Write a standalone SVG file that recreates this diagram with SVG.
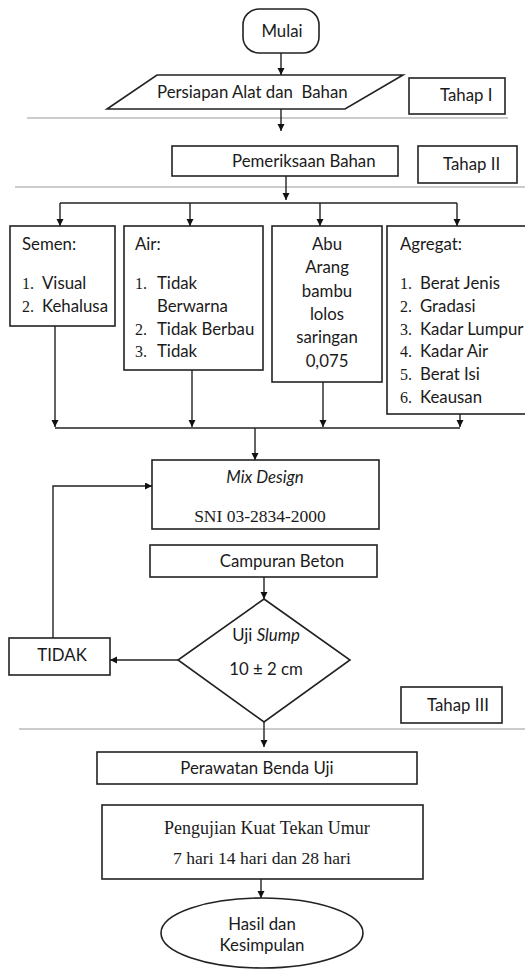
<svg xmlns="http://www.w3.org/2000/svg" width="525" height="969" viewBox="0 0 525 969">
<style>
.box{fill:#fff;stroke:#222;stroke-width:1.6}
.sep{stroke:#9a9a9a;stroke-width:1.2;fill:none}
.con{stroke:#222;stroke-width:1.4;fill:none}
.t{font-family:Lato,"Liberation Sans",sans-serif;font-size:16.8px;fill:#1a1a1a}
.s{font-family:"Liberation Serif",serif;font-size:16px;fill:#1a1a1a}
.c{text-anchor:middle}
.i{font-style:italic}
</style>
<defs>
<marker id="ah" markerWidth="8" markerHeight="8" refX="7" refY="3.5" orient="auto" markerUnits="userSpaceOnUse">
<path d="M0,0 L7,3.5 L0,7 z" fill="#111"/>
</marker>
</defs>
<rect width="525" height="969" fill="#fff"/>
<g id="separators">
<line class="sep" x1="27" y1="118" x2="508" y2="118"/>
<line class="sep" x1="15" y1="187" x2="525" y2="187"/>
<line class="sep" x1="19" y1="729" x2="525" y2="729"/>
</g>
<g id="mulai"><rect class="box" x="243" y="9" width="76" height="44" rx="16"/><text class="t c" x="282" y="37">Mulai</text></g>
<g id="persiapan"><polygon class="box" points="157,75 403,75 345,109 107,109"/><text class="t" x="157" y="98">Persiapan Alat dan&#160; Bahan</text></g>
<g id="tahap1"><rect class="box" x="409" y="78" width="96" height="36"/><text class="t" x="440" y="101">Tahap I</text></g>
<g id="pemeriksaan"><rect class="box" x="172" y="146" width="226" height="30"/><text class="t" x="232" y="167">Pemeriksaan Bahan</text></g>
<g id="tahap2"><rect class="box" x="418" y="146" width="99" height="37"/><text class="t" x="443" y="170">Tahap II</text></g>
<g id="semen"><rect class="box" x="10" y="226" width="105" height="100"/>
<text class="t" x="22" y="250">Semen:</text>
<text class="s" x="22" y="289">1.</text><text class="t" x="42" y="289">Visual</text>
<text class="s" x="22" y="312">2.</text><text class="t" x="42" y="312">Kehalusa</text></g>
<g id="air"><rect class="box" x="124" y="226" width="139" height="144"/>
<text class="t" x="135" y="250">Air:</text>
<text class="s" x="135" y="289">1.</text><text class="t" x="157" y="289">Tidak</text>
<text class="t" x="157" y="312">Berwarna</text>
<text class="s" x="135" y="335">2.</text><text class="t" x="157" y="335">Tidak Berbau</text>
<text class="s" x="135" y="357">3.</text><text class="t" x="157" y="357">Tidak</text></g>
<g id="abu"><rect class="box" x="272" y="226" width="110" height="156"/>
<text class="t c" x="327" y="250">Abu</text>
<text class="t c" x="327" y="273">Arang</text>
<text class="t c" x="327" y="297">bambu</text>
<text class="t c" x="327" y="320">lolos</text>
<text class="t c" x="327" y="343">saringan</text>
<text class="t c" x="327" y="367">0,075</text></g>
<g id="agregat"><rect class="box" x="387" y="226" width="150" height="188"/>
<text class="t" x="400" y="250">Agregat:</text>
<text class="s" x="400" y="289">1.</text><text class="t" x="420" y="289">Berat Jenis</text>
<text class="s" x="400" y="312">2.</text><text class="t" x="420" y="312">Gradasi</text>
<text class="s" x="400" y="335">3.</text><text class="t" x="420" y="335">Kadar Lumpur</text>
<text class="s" x="400" y="357">4.</text><text class="t" x="420" y="357">Kadar Air</text>
<text class="s" x="400" y="380">5.</text><text class="t" x="420" y="380">Berat Isi</text>
<text class="s" x="400" y="403">6.</text><text class="t" x="420" y="403">Keausan</text></g>
<g id="mixdesign"><rect class="box" x="152" y="460" width="227" height="69"/>
<text class="t c i" x="265" y="483">Mix Design</text>
<text class="s c" x="260" y="522" style="font-size:17.5px">SNI 03-2834-2000</text></g>
<g id="campuran"><rect class="box" x="150" y="545" width="227" height="32"/><text class="t c" x="282" y="567">Campuran Beton</text></g>
<g id="slump"><polygon class="box" points="264,599 350,660 264,722 178,660"/>
<text class="t c" x="266" y="641">Uji <tspan class="i">Slump</tspan></text>
<text class="t c" x="266" y="675">10 ± 2 cm</text></g>
<g id="tidak"><rect class="box" x="9" y="638" width="101" height="37"/><text class="t c" x="62" y="661">TIDAK</text></g>
<g id="tahap3"><rect class="box" x="401" y="687" width="101" height="36"/><text class="t" x="427" y="711">Tahap III</text></g>
<g id="perawatan"><rect class="box" x="97" y="752" width="320" height="32"/><text class="t c" x="257" y="774">Perawatan Benda Uji</text></g>
<g id="pengujian"><rect class="box" x="102" y="805" width="321" height="74"/>
<text class="s" x="164" y="834" style="font-size:18px">Pengujian Kuat Tekan Umur</text>
<text class="s" x="173" y="864" style="font-size:17.6px">7 hari 14 hari dan 28 hari</text></g>
<g id="hasil"><ellipse class="box" cx="262" cy="933" rx="101" ry="35"/>
<text class="t c" x="262" y="930">Hasil dan</text>
<text class="t c" x="262" y="951">Kesimpulan</text></g>
<g id="connectors">
<path class="con" d="M281,53 V75" marker-end="url(#ah)"/>
<path class="con" d="M281,109 V131" marker-end="url(#ah)"/>
<path class="con" d="M286,176 V200" marker-end="url(#ah)"/>
<path class="con" d="M60,203 H457"/>
<path class="con" d="M60,203 V226" marker-end="url(#ah)"/>
<path class="con" d="M190,203 V226" marker-end="url(#ah)"/>
<path class="con" d="M320,203 V226" marker-end="url(#ah)"/>
<path class="con" d="M457,203 V226" marker-end="url(#ah)"/>
<path class="con" d="M55,326 V427" marker-end="url(#ah)"/>
<path class="con" d="M192,370 V427" marker-end="url(#ah)"/>
<path class="con" d="M323,382 V427" marker-end="url(#ah)"/>
<path class="con" d="M460,414 V427" marker-end="url(#ah)"/>
<path class="con" d="M55,428 H460"/>
<path class="con" d="M255,428 V460" marker-end="url(#ah)"/>
<path class="con" d="M53,638 V486 H152" marker-end="url(#ah)"/>
<path class="con" d="M264,577 V599" marker-end="url(#ah)"/>
<path class="con" d="M178,660 H110" marker-end="url(#ah)"/>
<path class="con" d="M264,722 V747" marker-end="url(#ah)"/>
<path class="con" d="M261,879 V898" marker-end="url(#ah)"/>
</g>
</svg>
